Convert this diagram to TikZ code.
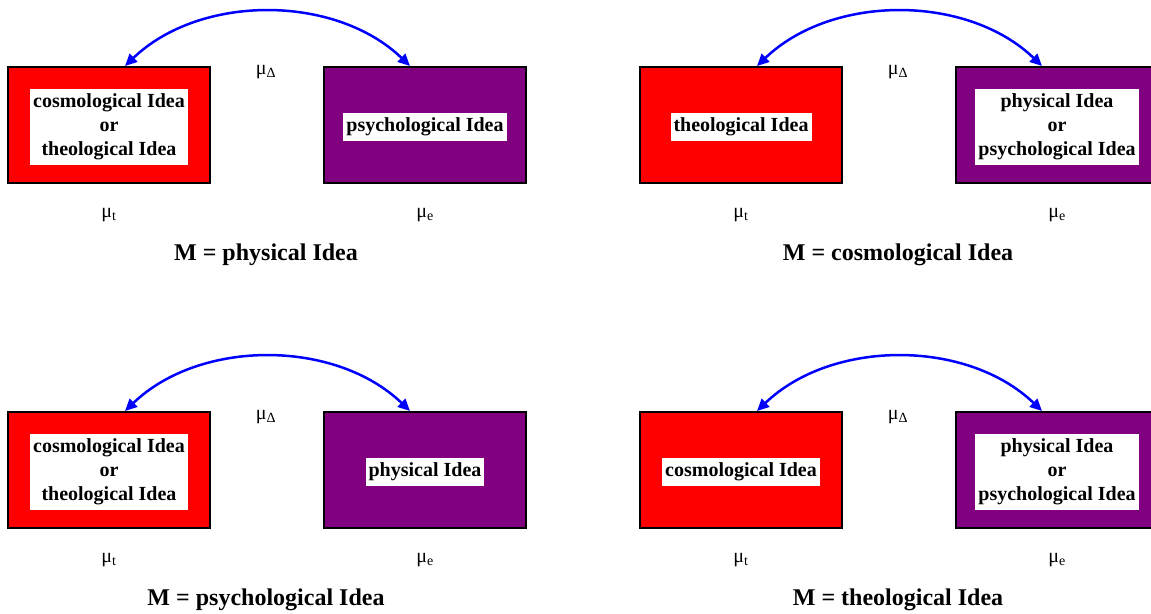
\documentclass[tikz,border=0pt]{standalone}
\usepackage{fontspec}
\setmainfont{Liberation Serif}
\usetikzlibrary{arrows.meta}
\definecolor{boxred}{RGB}{255,0,0}
\definecolor{boxpurple}{RGB}{128,0,128}
\definecolor{arcblue}{RGB}{0,0,255}
\tikzset{
 idea/.style={draw=black, line width=2pt, minimum width=202pt, minimum height=116pt, inner sep=0pt},
 redbox/.style={idea, fill=boxred},
 purplebox/.style={idea, fill=boxpurple},
 tag/.style={fill=white, font=\fontsize{20}{24}\selectfont\bfseries, align=center, inner xsep=3pt, inner ysep=4.5pt},
 mulabel/.style={font=\fontsize{20}{22}\selectfont, inner sep=0pt},
 caption/.style={font=\fontsize{24}{28}\selectfont\bfseries, inner sep=0pt},
 link/.style={draw=arcblue, line width=2.5pt, {Triangle[length=12pt,width=11pt]}-{Triangle[length=12pt,width=11pt]}}
}
\newcommand\ideapanel[6]{%
 \begin{scope}[shift={(#1,#2)}]
  \node[redbox] (#3L) at (109,125) {};
  \node[tag] (#3Lt) at ([yshift=-2pt]#3L.center) {#4};
  \node[purplebox] (#3R) at (425,125) {};
  \node[tag] (#3Rt) at ([yshift=-2pt]#3R.center) {#5};
  \coordinate (#3a) at (125,66);
  \coordinate (#3b) at (410,66);
  \draw[link] (#3a) .. controls +(75,-72) and +(-75,-72) .. (#3b);
  \node[mulabel] (#3md) at (266,72) {μ\textsubscript{Δ}};
  \node[mulabel] (#3mt) at (109,215) {μ\textsubscript{t}};
  \node[mulabel] (#3me) at (425,215) {μ\textsubscript{e}};
  \node[caption] (#3c) at (266,255) {#6};
 \end{scope}}
\begin{document}
\begin{tikzpicture}[x=1pt,y=-1pt]
\useasboundingbox (0,0) rectangle (1151,613);
\clip (0,0) rectangle (1151,613);
\ideapanel{0}{0}{p1}{cosmological Idea\\or\\theological Idea}{psychological Idea}{M = physical Idea}
\ideapanel{632}{0}{p2}{theological Idea}{physical Idea\\or\\psychological Idea}{M = cosmological Idea}
\ideapanel{0}{345}{p3}{cosmological Idea\\or\\theological Idea}{physical Idea}{M = psychological Idea}
\ideapanel{632}{345}{p4}{cosmological Idea}{physical Idea\\or\\psychological Idea}{M = theological Idea}
\end{tikzpicture}
\end{document}
